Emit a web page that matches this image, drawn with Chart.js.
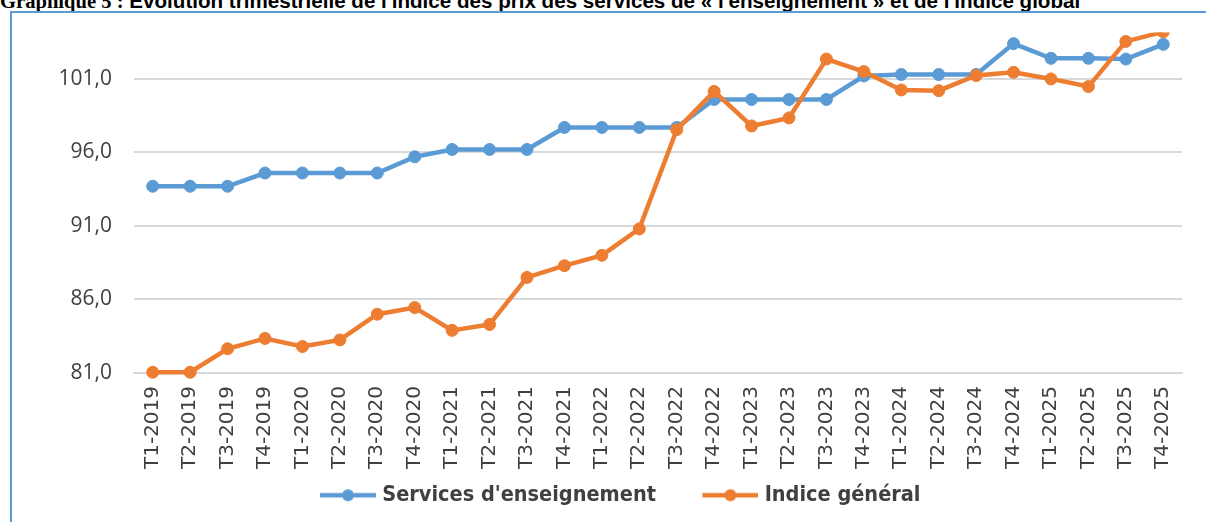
<!DOCTYPE html>
<html>
<head>
<meta charset="utf-8">
<script src="https://cdn.jsdelivr.net/npm/chart.js@4/dist/chart.umd.min.js"></script>
<style>
  html, body { margin: 0; padding: 0; background: #fff; }
  body { width: 1206px; height: 522px; overflow: hidden; position: relative; }
  #title {
    position: absolute; left: 0; top: -9px; white-space: nowrap;
    font: bold 20.6px/20px "Liberation Sans", Arial, sans-serif; color: #000;
  }
  #title .num { font-family: "Liberation Serif", "Times New Roman", serif; }
  #frame {
    position: absolute; left: 10px; top: 11px; width: 1300px; height: 600px;
    border-left: 2px solid #5B9BD5; border-top: 2px solid #5B9BD5;
  }
  /* canvas starts a bit higher: y tick padding is counted in the top layout padding */
  #wrap { position: absolute; left: 12px; top: -2px; width: 1194px; height: 524px; }
</style>
</head>
<body>
<div id="title"><span class="num">Graphique 5 :</span> Evolution trimestrielle de l'indice des prix des services de « l'enseignement » et de l'indice global</div>
<div id="frame"></div>
<div id="wrap"><canvas id="chart"></canvas></div>
<script>
// quarterly price index, education services vs general index
const quarters = [
  "T1-2019", "T2-2019", "T3-2019", "T4-2019",
  "T1-2020", "T2-2020", "T3-2020", "T4-2020",
  "T1-2021", "T2-2021", "T3-2021", "T4-2021",
  "T1-2022", "T2-2022", "T3-2022", "T4-2022",
  "T1-2023", "T2-2023", "T3-2023", "T4-2023",
  "T1-2024", "T2-2024", "T3-2024", "T4-2024",
  "T1-2025", "T2-2025", "T3-2025", "T4-2025",
]
const enseignement = [
  93.7, 93.7, 93.7, 94.6, 94.6, 94.6, 94.6, 95.7,
  96.2, 96.2, 96.2, 97.7, 97.7, 97.7, 97.7, 99.6,
  99.6, 99.6, 99.6, 101.2, 101.3, 101.3, 101.3, 103.4,
  102.4, 102.4, 102.35, 103.35,
]
const indiceGeneral = [
  81.05, 81.05, 82.65, 83.35, 82.8, 83.25, 85.0, 85.45,
  83.9, 84.3, 87.5, 88.3, 89.0, 90.8, 97.55, 100.15,
  97.8, 98.35, 102.35, 101.5, 100.25, 100.2, 101.23, 101.45,
  101.0, 100.48, 103.55, 104.2,
]
const yTicks = [81, 86, 91, 96, 101]

const BLUE = "#5B9BD5"
const ORANGE = "#ED7D31"
const TEXT = "#404040"

// legend swatch: line with a dot, like the Excel legend
function swatch(color) {
  const c = document.createElement("canvas")
  c.width = 97
  c.height = 16
  const ctx = c.getContext("2d")
  ctx.strokeStyle = color
  ctx.fillStyle = color
  ctx.lineWidth = 4.5
  ctx.beginPath()
  ctx.moveTo(41, 8)
  ctx.lineTo(97, 8)
  ctx.stroke()
  ctx.beginPath()
  ctx.arc(69, 8, 6, 0, Math.PI * 2)
  ctx.fill()
  return c
}
const swatches = [swatch(BLUE), swatch(ORANGE)]

const series = (label, data, color, order) => ({
  label,
  data,
  order,
  borderColor: color,
  backgroundColor: color,
  borderWidth: 4.5,
  pointRadius: 6,
  pointBorderWidth: 1,
  pointHoverRadius: 6,
  tension: 0,
  clip: { left: false, top: 0, right: false, bottom: false },
})

new Chart(document.getElementById("chart"), {
  type: "line",
  data: {
    labels: quarters,
    datasets: [
      series("Services d'enseignement", enseignement, BLUE, 1),
      series("Indice général", indiceGeneral, ORANGE, 0),
    ],
  },
  options: {
    responsive: true,
    maintainAspectRatio: false,
    animation: false,
    layout: { padding: { top: 0, right: 24, left: 10, bottom: 6 } },
    plugins: {
      tooltip: { enabled: false },
      legend: {
        position: "bottom",
        labels: {
          usePointStyle: true,
          pointStyleWidth: 88,
          padding: 10,
          color: TEXT,
          font: { family: "'DejaVu Sans Condensed', 'DejaVu Sans', sans-serif", size: 21.5, weight: "bold" },
          sort: (a, b) => a.datasetIndex - b.datasetIndex,
          generateLabels: (chart) =>
            Chart.defaults.plugins.legend.labels.generateLabels(chart).map(l => ({
              ...l,
              pointStyle: swatches[l.datasetIndex],
            })),
        },
      },
    },
    scales: {
      x: {
        offset: true,
        grid: { display: false, drawTicks: false },
        border: { display: true, color: "#D9D9D9", width: 2 },
        ticks: {
          autoSkip: false,
          maxRotation: 90,
          minRotation: 90,
          padding: 13,
          color: TEXT,
          font: { family: "'DejaVu Sans', sans-serif", size: 20 },
        },
        afterFit: (scale) => { scale.height = 101.5 },
      },
      y: {
        min: 81,
        max: 104.15,
        afterBuildTicks: (scale) => { scale.ticks = yTicks.map(v => ({ value: v })) },
        grid: { color: "#D9D9D9", lineWidth: 2, drawTicks: false },
        border: { display: false },
        ticks: {
          padding: 22,
          color: TEXT,
          font: { family: "'Open Sans', sans-serif", size: 21 },
          callback: (v) => v.toFixed(1).replace(".", ","),
        },
        afterFit: (scale) => { scale.width = 112 },
      },
    },
  },
})
</script>
</body>
</html>
